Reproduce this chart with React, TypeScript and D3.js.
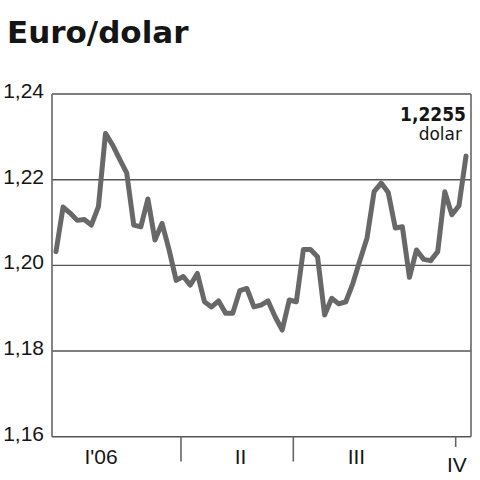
import React from 'react';
import * as d3 from 'd3';

// weekly EUR/USD rate, 2006
const rates = [
  1.2032, 1.2136, 1.2122, 1.2105, 1.2107, 1.2094, 1.2137, 1.2308, 1.2281, 1.2248,
  1.2216, 1.2094, 1.2090, 1.2155, 1.2059, 1.2098, 1.2036, 1.1965, 1.1974, 1.1954,
  1.1981, 1.1915, 1.1903, 1.1917, 1.1888, 1.1888, 1.1941, 1.1946, 1.1903, 1.1907,
  1.1917, 1.1880, 1.1849, 1.1919, 1.1915, 1.2037, 1.2037, 1.2020, 1.1884, 1.1923,
  1.1910, 1.1915, 1.1958, 1.2012, 1.2064, 1.2172, 1.2192, 1.2170, 1.2087, 1.2090,
  1.1972, 1.2036, 1.2014, 1.2011, 1.2032, 1.2172, 1.2118, 1.2139, 1.2255,
];

const yTicks = [1.16, 1.18, 1.2, 1.22, 1.24];
const yTickLabels = ['1,16', '1,18', '1,20', '1,22', '1,24'];

// quarter boundaries and labels, in week-index units
const quarterTicks = [17.68, 33.57, 56.54];
const quarterTickLong = [true, true, false];
const quarterLabels = ["I'06", 'II', 'III', 'IV'];
const quarterLabelPos = [6.37, 26.1, 42.5, 56.7];

const lastLabel = '1,2255';
const lastUnit = 'dolar';

const App = () => {
  const width = 480;
  const height = 480;
  const left = 52;
  const right = 471;
  const top = 94;
  const bottom = 436.7;

  const x = d3.scaleLinear().domain([0, rates.length - 1]).range([56, 466]);
  const y = d3.scaleLinear().domain([1.16, 1.24]).range([bottom, top]);

  const line = d3.line<number>()
    .x((d, i) => x(i))
    .y(d => y(d));

  const axisColor = '#666';
  const textColor = '#151515';

  return (
    <svg
      width={width}
      height={height}
      style={{ position: 'absolute', left: 0, top: 0, background: '#fff' }}
    >
      <text
        x={7}
        y={43}
        fontFamily="DejaVu Sans"
        fontWeight="bold"
        fontSize={31}
        fill={textColor}
      >
        Euro/dolar
      </text>

      {/* grid lines */}
      {yTicks.map((t, i) => (
        <g key={t}>
          <line x1={left} x2={right} y1={y(t)} y2={y(t)} stroke="#555" strokeWidth={1.4} />
          <text
            x={44}
            y={y(t) + 4}
            textAnchor="end"
            fontFamily="Liberation Sans"
            fontSize={21}
            fill={textColor}
          >
            {yTickLabels[i]}
          </text>
        </g>
      ))}

      {/* frame */}
      <line x1={left} x2={left} y1={top} y2={bottom} stroke={axisColor} strokeWidth={1.6} />
      <line x1={right} x2={right} y1={top} y2={bottom} stroke={axisColor} strokeWidth={1.6} />

      {/* quarter ticks */}
      {quarterTicks.map((q, i) => (
        <line
          key={q}
          x1={x(q)}
          x2={x(q)}
          y1={bottom}
          y2={quarterTickLong[i] ? 461.5 : 447}
          stroke={axisColor}
          strokeWidth={1.6}
        />
      ))}
      {quarterLabels.map((l, i) => (
        <text
          key={l}
          x={x(quarterLabelPos[i])}
          y={i === 3 ? 472 : 463.5}
          textAnchor="middle"
          fontFamily="Liberation Sans"
          fontSize={21}
          fill={textColor}
        >
          {l}
        </text>
      ))}

      <path
        d={line(rates) || ''}
        fill="none"
        stroke="#686868"
        strokeWidth={5}
        strokeLinejoin="round"
        strokeLinecap="round"
      />

      <text
        x={466}
        y={120.5}
        textAnchor="end"
        fontFamily="DejaVu Sans Condensed, DejaVu Sans"
        fontStretch="condensed"
        fontWeight="bold"
        fontSize={19}
        fill={textColor}
      >
        {lastLabel}
      </text>
      <text
        x={462}
        y={140}
        textAnchor="end"
        fontFamily="DejaVu Sans"
        fontSize={17}
        fill={textColor}
      >
        {lastUnit}
      </text>
    </svg>
  );
};

export default App;
